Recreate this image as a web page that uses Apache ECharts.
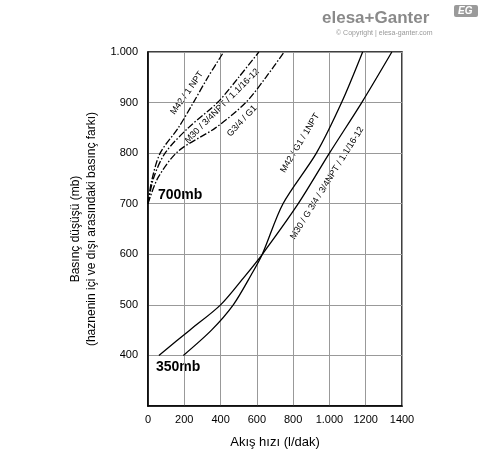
<!DOCTYPE html>
<html><head><meta charset="utf-8">
<script src="https://cdn.jsdelivr.net/npm/echarts@6/dist/echarts.min.js"></script>
<style>html,body{margin:0;background:#fff}#c{width:488px;height:454px}</style>
</head><body><div id="c"></div>
<script>
var m42Solid = [[195,400],[350,450],[470,500],[570,560],[630,600],[744,700],[928,800],[1067,900],[1183,1000]];
var m30Solid = [[60,400],[230,450],[400,500],[530,555],[630,600],[828,700],[1000,800],[1178,900],[1344,1000]];
var m42Dash = [[0,700],[20,745],[67,800],[167,850],[250,900],[330,950],[417,1000]];
var m30Dash = [[0,700],[30,750],[94,800],[222,850],[383,900],[500,950],[611,1000]];
var g34Dash = [[0,700],[56,752],[167,804],[372,850],[539,900],[650,950],[750,1000]];
var xLabels = {0:'0',200:'200',400:'400',600:'600',800:'800',1000:'1.000',1200:'1200',1400:'1400'};

var myChart = echarts.init(document.getElementById('c'));
var font = 'Liberation Sans, Arial, sans-serif';
function line(data, dashed) {
  return {type:'line', data:data, smooth:0.3, symbol:'none',
    lineStyle:{color:'#000', width:1.3, type: dashed ? [7,2,1.5,2] : 'solid'}};
}
function lbl(text, x, y, rot) {
  return {type:'text', x:x, y:y, rotation:rot*Math.PI/180,
    style:{text:text, font:'9px '+font, fill:'#000', align:'center', verticalAlign:'middle'}};
}
var option = {
  animation:false,
  grid:{left:148, right:86, top:52, bottom:48},
  xAxis:{type:'value', min:0, max:1400, interval:200,
    axisLine:{onZero:false, lineStyle:{color:'#000', width:1.5}}, axisTick:{show:false},
    axisLabel:{color:'#000', fontSize:11, fontFamily:font, margin:8, formatter:function(v){return xLabels[v];}},
    splitLine:{lineStyle:{color:'#999', width:1}},
    name:'Akış hızı (l/dak)', nameLocation:'middle', nameGap:30,
    nameTextStyle:{color:'#000', fontSize:13, fontFamily:font}},
  yAxis:{type:'value', min:300, max:1000, interval:100,
    axisLine:{lineStyle:{color:'#000', width:1.5}}, axisTick:{show:false},
    axisLabel:{color:'#000', fontSize:11, fontFamily:font, margin:10,
      formatter:function(v){return v===300?'':(v===1000?'1.000':v);}},
    splitLine:{lineStyle:{color:'#999', width:1}},
    name:'Basınç düşüşü (mb)\n(haznenin içi ve dışı arasındaki basınç farkı)',
    nameLocation:'middle', nameGap:45, nameRotate:90,
    nameTextStyle:{color:'#000', fontSize:12, fontFamily:font, lineHeight:16}},
  series:[line(m42Solid,false), line(m30Solid,false), line(m42Dash,true), line(m30Dash,true), line(g34Dash,true)],
  graphic:[
    {type:'rect', shape:{x:148,y:52,width:254,height:354}, style:{fill:'none', stroke:'#000', lineWidth:1.5}},
    lbl('M42 / 1 NPT',187,93,55),
    lbl('M30 / 3/4NPT / 1.1/16-12',222,106,45),
    lbl('G3/4 / G1',242,121,47),
    lbl('M42 / G1 / 1NPT',300,143,59),
    lbl('M30 / G 3/4 / 3/4NPT / 1.1/16-12',327,183,58),
    {type:'text', x:158, y:188, style:{text:'700mb', font:'bold 14px '+font, fill:'#000'}},
    {type:'text', x:156, y:360, style:{text:'350mb', font:'bold 14px '+font, fill:'#000'}},
    {type:'text', x:322, y:10, style:{text:'elesa+Ganter', font:'bold 17px '+font, fill:'#8a8a8a'}},
    {type:'text', x:336, y:30, style:{text:'© Copyright | elesa-ganter.com', font:'7px '+font, fill:'#999'}},
    {type:'rect', shape:{x:454,y:5,width:24,height:12,r:2}, style:{fill:'#9a9a9a'}},
    {type:'text', x:458, y:6, style:{text:'EG', font:'bold italic 10px '+font, fill:'#fff'}}
  ]
};
myChart.setOption(option);
</script></body></html>
